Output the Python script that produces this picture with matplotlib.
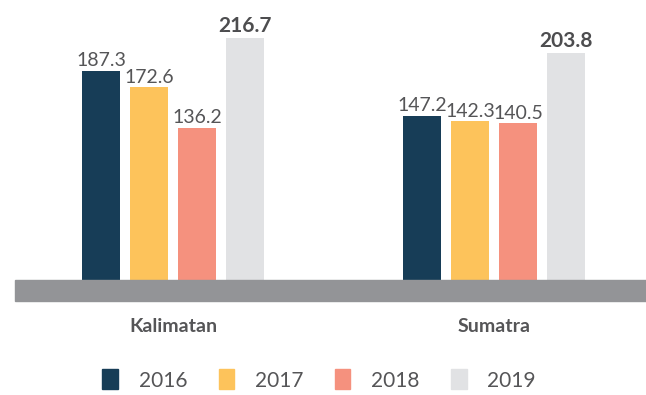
import matplotlib
matplotlib.use("Agg")
import matplotlib.pyplot as plt
from matplotlib.patches import Rectangle
import numpy as np

regions = ["Kalimatan", "Sumatra"]
years = ["2016", "2017", "2018", "2019"]
values = {
    "2016": [187.3, 147.2],
    "2017": [172.6, 142.3],
    "2018": [136.2, 140.5],
    "2019": [216.7, 203.8],
}
colors = ["#173d57", "#fdc35b", "#f5917e", "#e1e2e4"]

plt.rcParams["font.family"] = ["Lato", "DejaVu Sans"]
TXT = "#555557"

W, H = 646, 395
fig = plt.figure(figsize=(W / 100, H / 100), dpi=100)

base_px = 280          # baseline, pixels from top
left_px = 15
ax = fig.add_axes([left_px / W, (H - base_px) / H, (W - left_px) / W, base_px / H])
ax.set_xlim(-0.492, 1.4735)
ax.set_ylim(0, 250.9)
ax.axis("off")

x = np.arange(len(regions))
width = 0.118
step = 0.1495
offsets = (np.arange(len(years)) - 1.5) * step

for i, (yr, c) in enumerate(zip(years, colors)):
    vals = values[yr]
    ax.bar(x + offsets[i], vals, width=width, color=c, zorder=2)
    for xi, v in zip(x + offsets[i], vals):
        bold = yr == "2019"
        ax.text(xi, v + 1.5, f"{v:.1f}", ha="center", va="bottom",
                fontsize=15 if bold else 14,
                fontweight="bold" if bold else "normal",
                color="#4d4d4f" if bold else TXT)

# grey floor band under the bars
fig.patches.append(Rectangle((left_px / W, (H - 301) / H), (W - left_px) / W, 21 / H,
                             transform=fig.transFigure, color="#939497", zorder=1))

# region labels
for xi, name in zip(x, regions):
    disp = ax.transData.transform((xi, 0))
    fx = fig.transFigure.inverted().transform(disp)[0]
    fig.text(fx, (H - 326) / H, name, ha="center", va="center",
             fontsize=14, fontweight="bold", color=TXT)

# legend
handles = [Rectangle((0, 0), 1, 1, color=c) for c in colors]
leg = fig.legend(handles, years, loc="center", bbox_to_anchor=(0.494, (H - 380) / H),
                 ncol=4, frameon=False, fontsize=15, handlelength=0.75,
                 handleheight=1.1, handletextpad=1.0, columnspacing=1.5)
for t in leg.get_texts():
    t.set_color(TXT)

fig.savefig("out.png", dpi=100)
